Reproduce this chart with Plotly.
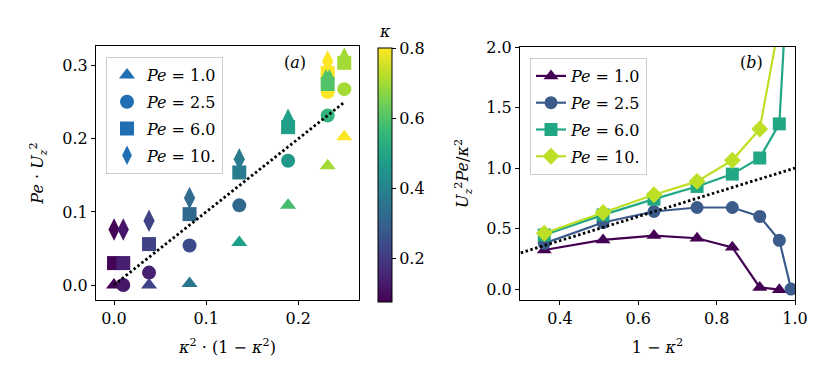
import plotly.graph_objects as go

# ---------------- data: panel (a) ----------------
pe_labels = ["<i>Pe</i> = 1.0", "<i>Pe</i> = 2.5", "<i>Pe</i> = 6.0", "<i>Pe</i> = 10."]

a_x_pe1 = [0.0, 0.038, 0.082, 0.136, 0.189, 0.232, 0.25]
a_y_pe1 = [0.0, 0.0, 0.002, 0.058, 0.109, 0.163, 0.203]
a_k_pe1 = [0.08, 0.22, 0.36, 0.48, 0.58, 0.70, 0.80]

a_x_pe25 = [0.01, 0.038, 0.082, 0.136, 0.189, 0.232, 0.25, 0.232]
a_y_pe25 = [0.0, 0.017, 0.054, 0.109, 0.170, 0.264, 0.268, 0.232]
a_k_pe25 = [0.12, 0.14, 0.24, 0.32, 0.46, 0.80, 0.70, 0.55]

a_x_pe6 = [0.0, 0.01, 0.038, 0.082, 0.136, 0.189, 0.232, 0.25, 0.232]
a_y_pe6 = [0.030, 0.030, 0.056, 0.097, 0.154, 0.216, 0.290, 0.304, 0.275]
a_k_pe6 = [0.08, 0.14, 0.22, 0.32, 0.38, 0.48, 0.80, 0.70, 0.60]

a_x_pe10 = [0.0, 0.01, 0.038, 0.082, 0.136, 0.189, 0.232, 0.25, 0.232]
a_y_pe10 = [0.076, 0.076, 0.088, 0.119, 0.172, 0.226, 0.285, 0.310, 0.306]
a_k_pe10 = [0.08, 0.12, 0.22, 0.33, 0.38, 0.48, 0.60, 0.70, 0.80]

a_ref_x = [0.0, 0.25]
a_ref_y = [0.0, 0.25]

# ---------------- data: panel (b) ----------------
b_x = [0.36, 0.51, 0.64, 0.75, 0.84, 0.91, 0.96, 0.99]
b_pe1 = [0.323, 0.406, 0.442, 0.420, 0.345, 0.014, -0.005]
b_pe25 = [0.378, 0.550, 0.641, 0.674, 0.674, 0.600, 0.403, 0.0]
b_pe6 = [0.447, 0.613, 0.743, 0.848, 0.950, 1.083, 1.365, 3.1]
b_pe10 = [0.461, 0.633, 0.779, 0.890, 1.064, 1.323, 2.2, 7.6]
b_ref_x = [0.3, 1.0]
b_ref_y = [0.3, 1.0]

b_colors = ["#440154", "#3b5b8b", "#22a785", "#bddf26"]

FONT = "DejaVu Serif"
FS = 16
W, H = 830, 381
L, R, T, B = 96, 795, 46, 300  # plot-area pixel box
IW, IH = R - L, B - T

def px_x(p):
    return (p - L) / IW

def px_y(p):
    return (B - p) / IH

fig = go.Figure()

symbols_a = ["triangle-up", "circle", "square", "diamond-tall"]
a_sets = [(a_x_pe1, a_y_pe1, a_k_pe1), (a_x_pe25, a_y_pe25, a_k_pe25),
          (a_x_pe6, a_y_pe6, a_k_pe6), (a_x_pe10, a_y_pe10, a_k_pe10)]

for i, (xs, ys, ks) in enumerate(a_sets):
    fig.add_trace(go.Scatter(
        x=xs, y=ys, mode="markers", xaxis="x", yaxis="y", showlegend=False,
        marker=dict(symbol=symbols_a[i], size=14 if i != 3 else 16, color=ks,
                    coloraxis="coloraxis", line=dict(width=0)),
    ))

fig.add_trace(go.Scatter(x=a_ref_x, y=a_ref_y, mode="lines", xaxis="x", yaxis="y",
                         showlegend=False,
                         line=dict(color="black", width=2.8, dash="2.5px,2.5px")))

for i in range(4):
    fig.add_trace(go.Scatter(
        x=[None], y=[None], mode="markers", xaxis="x", yaxis="y",
        name=pe_labels[i], legend="legend", legendgroup="a%d" % i,
        marker=dict(symbol=symbols_a[i], size=14, color="#1f6fb2", line=dict(width=0)),
    ))

symbols_b = ["triangle-up", "circle", "square", "diamond"]
b_sets = [b_pe1, b_pe25, b_pe6, b_pe10]
for i, ys in enumerate(b_sets):
    fig.add_trace(go.Scatter(
        x=b_x[:len(ys)], y=ys, mode="lines+markers", xaxis="x2", yaxis="y2",
        name=pe_labels[i], legend="legend2", legendgroup="b%d" % i,
        line=dict(color=b_colors[i], width=2.2),
        marker=dict(symbol=symbols_b[i], size=13, color=b_colors[i], line=dict(width=0)),
    ))

fig.add_trace(go.Scatter(x=b_ref_x, y=b_ref_y, mode="lines", xaxis="x2", yaxis="y2",
                         showlegend=False,
                         line=dict(color="black", width=2.8, dash="2.5px,2.5px")))

axis_common = dict(showgrid=False, zeroline=False, showline=True, linecolor="black",
                   linewidth=1, mirror=True, ticks="outside", ticklen=4,
                   tickcolor="black", automargin=False,
                   tickfont=dict(family=FONT, size=FS, color="black"))

fig.update_layout(
    width=W, height=H,
    margin=dict(l=L, r=W - R, t=T, b=H - B, autoexpand=False),
    paper_bgcolor="white", plot_bgcolor="white",
    font=dict(family=FONT, size=FS, color="black"),
    xaxis=dict(domain=[0, px_x(359)], range=[-0.0196, 0.266],
               tickvals=[0.0, 0.1, 0.2], tickformat=".1f", anchor="y",
               title=dict(text="<i>κ</i><sup>2</sup> · (1 − <i>κ</i><sup>2</sup>)",
                          standoff=14, font=dict(size=FS)),
               **axis_common),
    yaxis=dict(domain=[0, 1], range=[-0.0205, 0.327],
               tickvals=[0.0, 0.1, 0.2, 0.3], tickformat=".1f", anchor="x",
               title=dict(text="<i>Pe</i> · <i>U</i><sub><i>z</i></sub><sup>2</sup>",
                          standoff=14, font=dict(size=FS)),
               **axis_common),
    xaxis2=dict(domain=[px_x(520), 1], range=[0.298, 1.0],
                tickvals=[0.4, 0.6, 0.8, 1.0], tickformat=".1f", anchor="y2",
                title=dict(text="1 − <i>κ</i><sup>2</sup>", standoff=14, font=dict(size=FS)),
                **axis_common),
    yaxis2=dict(domain=[0, px_y(47)], range=[-0.09, 2.0],
                tickvals=[0.0, 0.5, 1.0, 1.5, 2.0], tickformat=".1f", anchor="x2",
                title=dict(text="<i>U</i><sub><i>z</i></sub><sup>2</sup><i>Pe</i>/<i>κ</i><sup>2</sup>",
                           standoff=13, font=dict(size=FS)),
                **axis_common),
    coloraxis=dict(
        colorscale="Viridis", cmin=0.075, cmax=0.8,
        colorbar=dict(x=px_x(378), xanchor="left", thickness=14, thicknessmode="pixels",
                      len=(302 - 48) / IH, lenmode="fraction", y=px_y(302), yanchor="bottom",
                      xpad=0, ypad=0,
                      outlinewidth=1, outlinecolor="black", ticks="outside", ticklen=4,
                      tickcolor="black", tickvals=[0.2, 0.4, 0.6, 0.8], tickformat=".1f",
                      tickfont=dict(family=FONT, size=FS)),
    ),
    legend=dict(x=px_x(106), y=px_y(57), xanchor="left", yanchor="top",
                bgcolor="rgba(255,255,255,0.8)", bordercolor="#cccccc", borderwidth=1,
                font=dict(family=FONT, size=FS), tracegroupgap=3, traceorder="grouped"),
    legend2=dict(x=px_x(530), y=px_y(58), xanchor="left", yanchor="top",
                 bgcolor="rgba(255,255,255,0.8)", bordercolor="#cccccc", borderwidth=1,
                 font=dict(family=FONT, size=FS), tracegroupgap=3, traceorder="grouped"),
    annotations=[
        dict(text="(<i>a</i>)", x=px_x(295), y=px_y(62), xref="paper", yref="paper",
             xanchor="center", yanchor="middle",
             showarrow=False, font=dict(family=FONT, size=FS)),
        dict(text="(<i>b</i>)", x=px_x(751), y=px_y(62), xref="paper", yref="paper",
             xanchor="center", yanchor="middle",
             showarrow=False, font=dict(family=FONT, size=FS)),
        dict(text="<i>κ</i>", x=px_x(385), y=px_y(31), xref="paper", yref="paper",
             xanchor="center", yanchor="middle",
             showarrow=False, font=dict(family=FONT, size=FS)),
    ],
)

fig.write_html("out.html", config={"displayModeBar": False},
               post_script="document.body.style.margin='0';")
